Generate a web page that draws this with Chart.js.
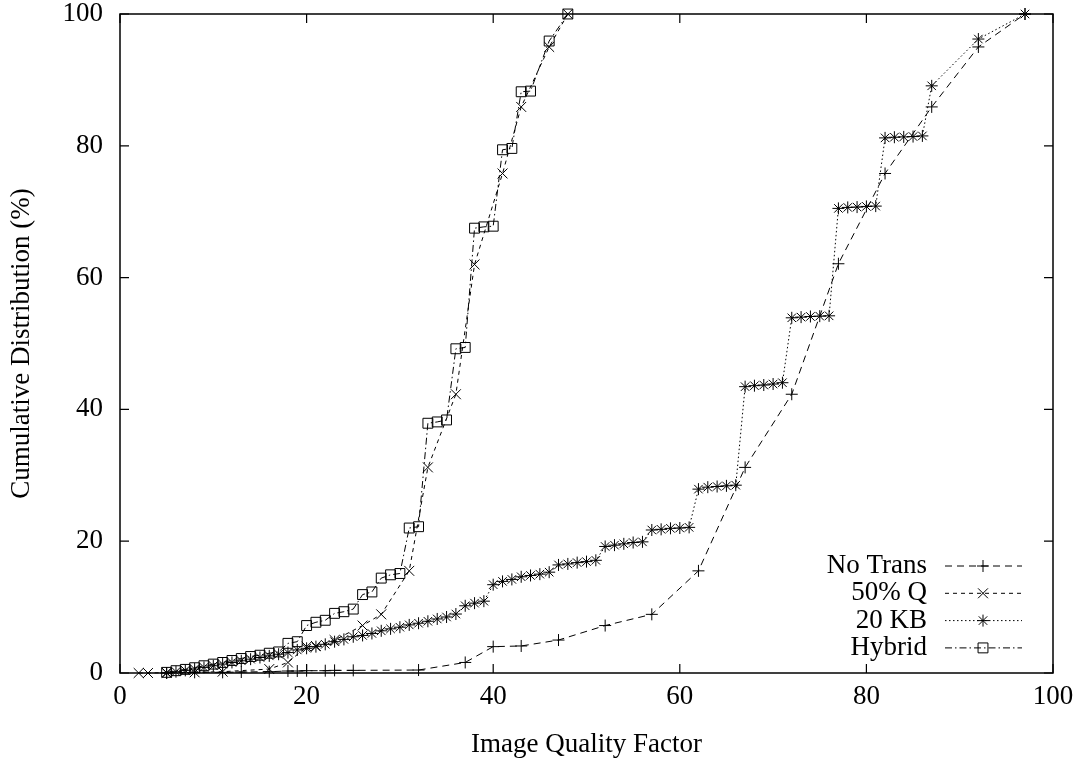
<!DOCTYPE html>
<html lang="en">
<head>
  <meta charset="UTF-8">
  <title>Cumulative Distribution</title>
  <script src="https://cdn.jsdelivr.net/npm/chart.js"></script>
  <style>
    body { margin: 0; background: #fff; }
    .box { width: 1081px; height: 763px; position: relative; }
  </style>
</head>
<body>
  <div class="box"><canvas id="grafico"></canvas></div>

<script>
  // valores
  const axisTicks = [0, 20, 40, 60, 80, 100];

  const noTransX = [5, 8, 11, 13, 16, 18, 19, 20, 22, 23, 25, 32, 37, 40, 43, 47, 52, 57, 62, 67, 72, 77, 82, 87, 92, 97];
  const noTransY = [0, 0.1, 0.1, 0.15, 0.2, 0.3, 0.3, 0.35, 0.35, 0.4, 0.4, 0.45, 1.6, 4.0, 4.1, 5.0, 7.2, 8.9, 15.5, 31.2, 42.3, 62.1, 75.8, 85.9, 95.0, 100];

  const q50X = [2, 3, 5, 8, 11, 16, 18, 20, 21, 23, 26, 28, 31, 33, 36, 38, 41, 43, 46, 48];
  const q50Y = [0, 0, 0.05, 0.1, 0.2, 0.6, 1.6, 4.0, 4.1, 5.0, 7.2, 8.9, 15.5, 31.2, 42.3, 62.0, 75.8, 85.9, 95.0, 100];

  const kb20X = [5, 6, 7, 8, 9, 10, 11, 12, 13, 14, 15, 16, 17, 18, 19, 20,
    21, 22, 23, 24, 25, 26, 27, 28, 29, 30, 31, 32, 33, 34, 35, 36, 37, 38, 39, 40,
    41, 42, 43, 44, 45, 46, 47, 48, 49, 50, 51, 52, 53, 54, 55, 56, 57, 58, 59, 60,
    61, 62, 63, 64, 65, 66, 67, 68, 69, 70, 71, 72, 73, 74, 75, 76, 77, 78, 79, 80,
    81, 82, 83, 84, 85, 86, 87, 92, 97];
  const kb20Y = [0, 0.2, 0.4, 0.6, 0.85, 1.1, 1.35, 1.6, 1.85, 2.1, 2.35, 2.6, 2.85, 3.1, 3.5, 3.75,
    4.0, 4.35, 4.75, 5.1, 5.5, 5.7, 6.0, 6.4, 6.7, 6.95, 7.3, 7.55, 7.85, 8.2, 8.5, 8.95, 10.2, 10.6, 10.9, 13.4,
    13.9, 14.2, 14.6, 14.8, 15.0, 15.3, 16.4, 16.55, 16.75, 16.9, 17.1, 19.2, 19.4, 19.6, 19.8, 19.9, 21.7, 21.8, 21.95, 22.0,
    22.1, 27.9, 28.2, 28.3, 28.4, 28.5, 43.45, 43.6, 43.7, 43.85, 44.05, 53.9, 54.0, 54.1, 54.15, 54.2, 70.5, 70.65, 70.7, 70.8,
    70.85, 81.2, 81.3, 81.35, 81.4, 81.5, 89.1, 96.2, 100];

  const hybridX = [5, 6, 7, 8, 9, 10, 11, 12, 13, 14, 15, 16, 17, 18, 19, 20, 21, 22, 23, 24, 25,
    26, 27, 28, 29, 30, 31, 32, 33, 34, 35, 36, 37, 38, 39, 40, 41, 42, 43, 44, 46, 48];
  const hybridY = [0.1, 0.35, 0.55, 0.8, 1.1, 1.35, 1.6, 1.9, 2.2, 2.5, 2.7, 3.0, 3.2, 4.5, 4.75, 7.2, 7.7, 8.0, 9.05, 9.3, 9.7,
    11.9, 12.3, 14.4, 14.9, 15.1, 22.0, 22.2, 37.9, 38.1, 38.4, 49.2, 49.4, 67.5, 67.7, 67.8, 79.4, 79.6, 88.2, 88.3, 95.9, 100];

  function pares(xs, ys) {
    return xs.map((x, i) => ({ x: x, y: ys[i] }));
  }

  const fonte = "'Liberation Serif', 'DejaVu Serif', serif";
  const tamanho = 27;

  function serie(label, xs, ys, dash, estilo, raio) {
    return {
      label: label,
      data: pares(xs, ys),
      showLine: true,
      borderColor: "#000",
      borderWidth: 1,
      borderDash: dash,
      pointStyle: estilo,
      pointRadius: raio,
      pointBorderColor: "#000",
      pointBackgroundColor: "rgba(0,0,0,0)",
      pointBorderWidth: 1,
      tension: 0,
      clip: false,
    };
  }

  // desenha um marcador no estilo do gnuplot (usado na legenda)
  function marcador(ctx, estilo, x, y, r) {
    ctx.beginPath();
    if (estilo === "cross" || estilo === "star") {
      ctx.moveTo(x - r, y); ctx.lineTo(x + r, y);
      ctx.moveTo(x, y - r); ctx.lineTo(x, y + r);
    }
    if (estilo === "crossRot" || estilo === "star") {
      const d = r * Math.SQRT1_2;
      ctx.moveTo(x - d, y - d); ctx.lineTo(x + d, y + d);
      ctx.moveTo(x - d, y + d); ctx.lineTo(x + d, y - d);
    }
    if (estilo === "rect") {
      const d = r * Math.SQRT1_2;
      ctx.rect(x - d, y - d, 2 * d, 2 * d);
    }
    ctx.stroke();
  }

  // moldura com ticks para dentro nos quatro lados + legenda
  const molduraPlugin = {
    id: "moldura",
    afterDatasetsDraw(chart) {
      const ctx = chart.ctx;
      const a = chart.chartArea;
      const sx = chart.scales.x;
      const sy = chart.scales.y;
      const t = 9;
      ctx.save();
      ctx.strokeStyle = "#000";
      ctx.setLineDash([]);
      ctx.lineWidth = 1.5;
      ctx.strokeRect(a.left, a.top, a.right - a.left, a.bottom - a.top);
      ctx.lineWidth = 1.2;
      ctx.beginPath();
      axisTicks.forEach((v) => {
        const px = sx.getPixelForValue(v);
        ctx.moveTo(px, a.bottom); ctx.lineTo(px, a.bottom - t);
        ctx.moveTo(px, a.top); ctx.lineTo(px, a.top + t);
        const py = sy.getPixelForValue(v);
        ctx.moveTo(a.left, py); ctx.lineTo(a.left + t, py);
        ctx.moveTo(a.right, py); ctx.lineTo(a.right - t, py);
      });
      ctx.stroke();

      // legenda
      ctx.font = tamanho + "px " + fonte;
      ctx.fillStyle = "#000";
      ctx.textAlign = "right";
      ctx.textBaseline = "middle";
      chart.data.datasets.forEach((ds, i) => {
        const y = a.bottom - 107 + i * 27.3;
        ctx.fillText(ds.label, a.right - 126, y);
        ctx.lineWidth = 1;
        ctx.setLineDash(ds.borderDash);
        ctx.beginPath();
        ctx.moveTo(a.right - 108, y);
        ctx.lineTo(a.right - 31, y);
        ctx.stroke();
        ctx.setLineDash([]);
        marcador(ctx, ds.pointStyle, a.right - 70, y, ds.pointRadius);
      });
      ctx.restore();
    },
  };

  const config = {
    type: "scatter",
    data: {
      datasets: [
        serie("No Trans", noTransX, noTransY, [7, 5], "cross", 6),
        serie("50% Q", q50X, q50Y, [4, 4], "crossRot", 7),
        serie("20 KB", kb20X, kb20Y, [1.5, 2.5], "star", 6),
        serie("Hybrid", hybridX, hybridY, [7, 3, 1.5, 3], "rect", 7),
      ],
    },
    options: {
      responsive: true,
      maintainAspectRatio: false,
      animation: false,
      layout: { padding: { top: 14, right: 28, left: 0, bottom: 0 } },
      plugins: {
        legend: { display: false },
        tooltip: { enabled: false },
      },
      scales: {
        x: {
          type: "linear",
          min: 0,
          max: 100,
          afterFit: (s) => { s.height = 90; s.paddingLeft = 0; s.paddingRight = 0; },
          afterBuildTicks: (s) => { s.ticks = axisTicks.map((v) => ({ value: v })); },
          grid: { display: false, drawTicks: false },
          border: { display: false },
          ticks: { color: "#000", padding: 8, font: { family: fonte, size: tamanho } },
          title: {
            display: true,
            text: "Image Quality Factor",
            color: "#000",
            font: { family: fonte, size: tamanho },
            padding: { top: 0, bottom: 2 },
          },
        },
        y: {
          type: "linear",
          min: 0,
          max: 100,
          afterFit: (s) => { s.width = 120; s.paddingTop = 0; s.paddingBottom = 0; },
          afterBuildTicks: (s) => { s.ticks = axisTicks.map((v) => ({ value: v })); },
          grid: { display: false, drawTicks: false },
          border: { display: false },
          ticks: { color: "#000", padding: 17, font: { family: fonte, size: tamanho } },
          title: {
            display: true,
            text: "Cumulative Distribution (%)",
            color: "#000",
            font: { family: fonte, size: tamanho },
            padding: { top: 6, bottom: 0 },
          },
        },
      },
    },
    plugins: [molduraPlugin],
  };

  new Chart(document.getElementById("grafico"), config);
</script>
</body>
</html>
